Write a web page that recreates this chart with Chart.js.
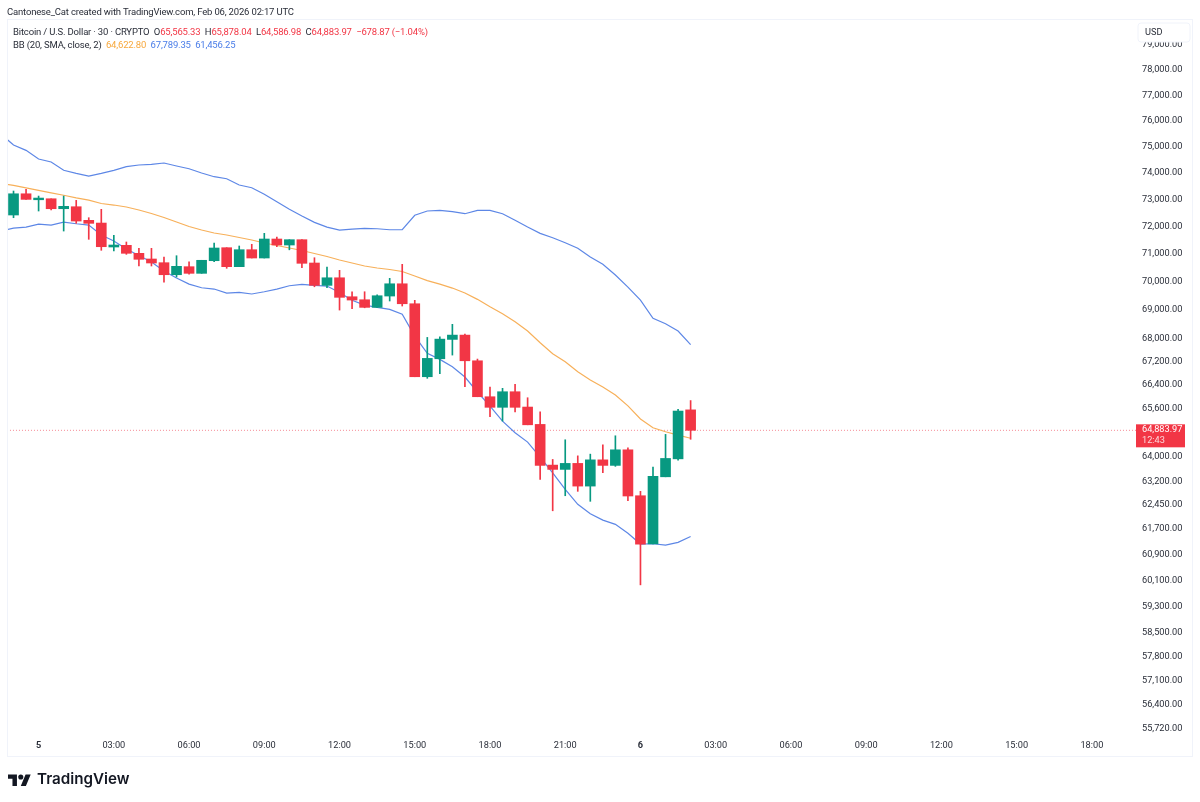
<!DOCTYPE html>
<html>
<head>
<meta charset="utf-8">
<title>BTCUSD 30m</title>
<script src="https://cdn.jsdelivr.net/npm/chart.js@4/dist/chart.umd.min.js"></script>
<style>
    html, body { margin: 0; padding: 0; background: #fff; width: 1200px; height: 802px; overflow: hidden; }
    body { position: relative; font-family: Roboto, sans-serif; color: #131722; }
    #chart { position: absolute; left: 0; top: 0; }
    .txt { position: absolute; white-space: pre; font-size: 9.5px; letter-spacing: -0.17px; line-height: 13px; color: #2a2e39; }
    .red { color: #f23645; }
    .orange { color: #f7a83c; }
    .blue { color: #4a7de8; }
    #logo { position: absolute; left: 8px; top: 773px; }
    #brand { position: absolute; left: 37px; top: 768px; font: 600 15.2px/22px Inter, sans-serif; color: #131722; }
</style>
</head>
<body>
<canvas id="chart" width="1200" height="802"></canvas>
<div class="txt" style="left:7px;top:5px">Cantonese_Cat created with TradingView.com, Feb 06, 2026 02:17 UTC</div>
<div class="txt" style="left:13px;top:25px">Bitcoin / U.S. Dollar · 30 · CRYPTO  O<span class="red">65,565.33</span>  H<span class="red">65,878.04</span>  L<span class="red">64,586.98</span>  C<span class="red">64,883.97</span>  <span class="red">−678.87 (−1.04%)</span></div>
<div class="txt" style="left:13px;top:38px">BB (20, SMA, close, 2)  <span class="orange">64,622.80</span>  <span class="blue">67,789.35</span>  <span class="blue">61,456.25</span></div>
<svg id="logo" width="23" height="13" viewBox="0 0 36 20"><path fill="#131722" d="M14 20H7V9H0V2h14v18zM28 20h-8l7.5-18h8L28 20z"/><circle fill="#131722" cx="20" cy="6" r="4"/></svg>
<div id="brand">TradingView</div>
<script>
// Half hour slots counted from Feb 5 00:00
const candleSlots = [-2, -1, 0, 1, 2, 3, 4, 5, 6, 7, 8, 9, 10, 11, 12, 13, 14, 15, 16, 17, 18, 19, 20, 21, 22, 23, 24, 25, 26, 27, 28, 29, 30, 31, 32, 33, 34, 35, 36, 37, 38, 39, 40, 41, 42, 43, 44, 45, 46, 47, 48, 49, 50, 51, 52];
const opens = [72430, 73220, 72996, 73034, 72663, 72737, 72233, 72133, 71255, 71317, 71026, 70820, 70686, 70253, 70542, 70303, 70758, 71230, 70542, 71157, 70856, 71547, 71328, 71522, 70675, 69872, 70144, 69467, 69361, 69091, 69492, 69929, 69219, 66685, 67300, 67969, 68119, 67231, 66007, 65651, 66176, 65660, 65080, 63741, 63601, 63796, 63061, 63912, 63731, 64241, 62751, 61226, 63361, 63945, 65565.33];
const highs = [73323, 73387, 73135, 73034, 73135, 72974, 72330, 72641, 71682, 71438, 71208, 71208, 70892, 70939, 70722, 70773, 71401, 71230, 71292, 71354, 71755, 71620, 71522, 71522, 70866, 70531, 70412, 69645, 69645, 69538, 70123, 70628, 69340, 68038, 68060, 68495, 68155, 67290, 66336, 66292, 66427, 65973, 65503, 63925, 64571, 64043, 64099, 64406, 64703, 64307, 62892, 63676, 64749, 65583, 65878.04];
const lows = [72330, 73011, 72578, 72615, 71839, 72122, 71536, 71135, 71110, 70989, 70567, 70567, 69989, 70170, 70275, 70303, 70722, 70484, 70542, 70856, 70856, 71266, 71153, 70505, 69822, 69787, 68996, 69043, 69076, 69091, 69316, 69138, 66685, 66631, 66786, 67427, 66346, 66007, 65335, 65191, 65493, 65067, 63276, 62270, 62751, 62892, 62572, 63491, 63700, 62592, 59957, 61226, 63361, 63903, 64586.98];
const closes = [73220, 73011, 73060, 72663, 72752, 72207, 72122, 71266, 71328, 71026, 70809, 70675, 70253, 70556, 70303, 70773, 71219, 70542, 71157, 70856, 71547, 71328, 71522, 70664, 69872, 70144, 69446, 69350, 69091, 69503, 69929, 69219, 66685, 67313, 67979, 68119, 67231, 66007, 65651, 66176, 65651, 65067, 63731, 63601, 63796, 63061, 63912, 63731, 64241, 62742, 61217, 63376, 63958, 65526, 64883.97];

// Bollinger bands start one slot earlier, it runs off the left edge
const bandSlots = [-3, -2, -1, 0, 1, 2, 3, 4, 5, 6, 7, 8, 9, 10, 11, 12, 13, 14, 15, 16, 17, 18, 19, 20, 21, 22, 23, 24, 25, 26, 27, 28, 29, 30, 31, 32, 33, 34, 35, 36, 37, 38, 39, 40, 41, 42, 43, 44, 45, 46, 47, 48, 49, 50, 51, 52];
const bbBasis = [73605, 73538, 73440, 73350, 73256, 73166, 73068, 72981, 72856, 72800, 72726, 72615, 72485, 72337, 72170, 72004, 71876, 71766, 71693, 71602, 71511, 71401, 71310, 71219, 71128, 71018, 70910, 70783, 70675, 70567, 70495, 70441, 70368, 70206, 70043, 69918, 69776, 69599, 69375, 69113, 68866, 68586, 68260, 67852, 67472, 67196, 66854, 66573, 66336, 66064, 65700, 65260, 64967, 64835, 64726, 64622.80];
const bbUpper = [75490, 75065, 74863, 74533, 74419, 74103, 73989, 73887, 73989, 74103, 74240, 74305, 74331, 74381, 74267, 74164, 74000, 73861, 73786, 73549, 73447, 73199, 72922, 72641, 72393, 72159, 71985, 71876, 71912, 71938, 71923, 71887, 71887, 72419, 72578, 72604, 72552, 72478, 72604, 72604, 72478, 72233, 71985, 71755, 71595, 71412, 71208, 70892, 70628, 70242, 69812, 69350, 68705, 68516, 68260, 67789.35];
const bbLower = [71839, 71949, 71985, 72096, 72059, 72170, 72107, 72059, 71693, 71474, 71182, 70946, 70711, 70386, 70134, 69918, 69787, 69741, 69599, 69624, 69564, 69645, 69741, 69858, 69908, 69872, 69847, 69617, 69340, 69173, 69092, 69021, 68851, 68083, 67486, 67279, 67024, 66675, 66167, 65694, 65191, 64802, 64495, 64000, 63491, 62955, 62477, 62177, 61975, 61840, 61557, 61220, 61230, 61188, 61273, 61456.25];

const lastPrice = 64883.97;
const priceTicks = [79000, 78000, 77000, 76000, 75000, 74000, 73000, 72000, 71000, 70000, 69000, 68000, 67200, 66400, 65600, 64000, 63200, 62450, 61700, 60900, 60100, 59300, 58500, 57800, 57100, 56400, 55720];
const timeTickSlots = [0, 6, 12, 18, 24, 30, 36, 42, 48, 54, 60, 66, 72, 78, 84];
const timeTickLabels = ['5', '03:00', '06:00', '09:00', '12:00', '15:00', '18:00', '21:00', '6', '03:00', '06:00', '09:00', '12:00', '15:00', '18:00'];

const RED = '#f23645';
const GREEN = '#089981';
const BLUE_LINE = '#5d87e6';
const ORANGE_LINE = '#f7b05a';
const FONT = 'Roboto, sans-serif';
const AXIS_TEXT = '#2a2e39';

const candleColors = opens.map((o, i) => closes[i] >= o ? GREEN : RED);

function points(slots, values) {
    return slots.map((s, i) => ({ x: s, y: values[i] }));
}

// Frame, USD box and the last price tag sit on top of the axes
const overlays = {
    id: 'overlays',
    afterDraw(chart) {
        const ctx = chart.ctx;
        const y = chart.scales.y.getPixelForValue(lastPrice);
        ctx.save();
        ctx.strokeStyle = '#f0f3fa';
        ctx.lineWidth = 1;
        ctx.strokeRect(7.5, 19.5, 1185, 737);

        // USD box
        ctx.fillStyle = '#fff';
        ctx.beginPath();
        ctx.roundRect(1138, 23, 52, 19, 3);
        ctx.fill();
        ctx.stroke();
        ctx.fillStyle = AXIS_TEXT;
        ctx.font = '9.2px ' + FONT;
        ctx.textBaseline = 'middle';
        ctx.fillText('USD', 1145, 32.5);

        // last price tag
        ctx.fillStyle = RED;
        ctx.fillRect(1136, y - 6, 49, 23);
        ctx.fillStyle = '#fff';
        ctx.fillText('64,883.97', 1142, y - 0.5);
        ctx.fillStyle = 'rgba(255,255,255,0.8)';
        ctx.fillText('12:43', 1142, y + 10.5);
        ctx.restore();
    }
};

new Chart(document.getElementById('chart'), {
    type: 'bar',
    data: {
        datasets: [
            {
                label: 'body',
                data: candleSlots.map((s, i) => ({ x: s, y: [opens[i], closes[i]] })),
                backgroundColor: candleColors,
                barThickness: 10,
                grouped: false,
                order: 1
            },
            {
                label: 'wick',
                data: candleSlots.map((s, i) => ({ x: s, y: [lows[i], highs[i]] })),
                backgroundColor: candleColors,
                barThickness: 1,
                grouped: false,
                order: 2
            },
            {
                type: 'line',
                label: 'BB basis',
                data: points(bandSlots, bbBasis),
                borderColor: ORANGE_LINE,
                borderWidth: 1.2,
                pointRadius: 0,
                order: 3
            },
            {
                type: 'line',
                label: 'BB upper',
                data: points(bandSlots, bbUpper),
                borderColor: BLUE_LINE,
                borderWidth: 1.2,
                pointRadius: 0,
                order: 3
            },
            {
                type: 'line',
                label: 'BB lower',
                data: points(bandSlots, bbLower),
                borderColor: BLUE_LINE,
                borderWidth: 1.2,
                pointRadius: 0,
                order: 3
            },
            {
                type: 'line',
                label: 'last price',
                data: [{ x: -3, y: lastPrice }, { x: 88, y: lastPrice }],
                borderColor: '#f58a94',
                borderWidth: 1,
                borderDash: [1, 2],
                pointRadius: 0,
                order: 4
            }
        ]
    },
    options: {
        responsive: false,
        animation: false,
        devicePixelRatio: 1,
        layout: { padding: { left: 7, top: 20, right: 8, bottom: 46 } },
        plugins: { legend: { display: false }, tooltip: { enabled: false } },
        scales: {
            x: {
                type: 'linear',
                offset: false,
                min: -2.52,
                max: 87.6,
                grid: { display: false, drawTicks: false },
                border: { display: false },
                afterBuildTicks(scale) {
                    scale.ticks = timeTickSlots.map(v => ({ value: v }));
                },
                afterFit(scale) {
                    scale.height = 20;
                },
                ticks: {
                    autoSkip: false,
                    maxRotation: 0,
                    padding: 4,
                    color: AXIS_TEXT,
                    font: ctx => ({
                        family: FONT,
                        size: 9.2,
                        weight: ctx.index === 0 || ctx.index === 8 ? '700' : '400'
                    }),
                    callback: (value, index) => timeTickLabels[index]
                }
            },
            y: {
                type: 'logarithmic',
                position: 'right',
                min: 55501,
                max: 80019,
                grid: { display: false, drawTicks: false },
                border: { display: false },
                afterBuildTicks(scale) {
                    scale.ticks = priceTicks.map(v => ({ value: v }));
                },
                afterFit(scale) {
                    scale.width = 55;
                },
                ticks: {
                    autoSkip: false,
                    padding: 5,
                    color: AXIS_TEXT,
                    font: { family: FONT, size: 9.2 },
                    callback: value => value.toLocaleString('en-US', { minimumFractionDigits: 2, maximumFractionDigits: 2 })
                }
            }
        }
    },
    plugins: [overlays]
});
</script>
</body>
</html>
